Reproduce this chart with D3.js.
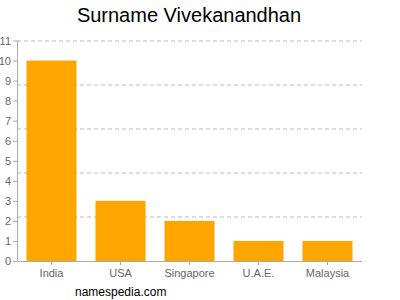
<!DOCTYPE html>
<html>
<head>
<meta charset="utf-8">
<script src="https://cdn.jsdelivr.net/npm/d3@7"></script>
<style>
  body { margin: 0; background: #fff; }
  text { font-family: "Liberation Sans", Arial, sans-serif; }
</style>
</head>
<body>
<svg id="chart"></svg>
<script>
// surname counts per country
const countries = ['India', 'USA', 'Singapore', 'U.A.E.', 'Malaysia'];
const counts = [10, 3, 2, 1, 1];
const yTicks = d3.range(0, 12);
const gridValues = [2.2, 4.4, 6.6, 8.8, 11];

const config = {
  width: 400,
  height: 300,
  margin: { top: 40.5, right: 38, bottom: 39, left: 17 },
};

const svg = d3.select('#chart')
  .attr('width', config.width)
  .attr('height', config.height);

const innerW = config.width - config.margin.left - config.margin.right;
const innerH = config.height - config.margin.top - config.margin.bottom;

const chart = svg.append('g')
  .attr('transform', `translate(${config.margin.left},${config.margin.top})`);

const xScale = d3.scaleBand()
  .domain(countries)
  .range([0, innerW])
  .paddingInner(0.275)
  .paddingOuter(0.1375);

const yScale = d3.scaleLinear()
  .domain([0, 11])
  .range([innerH, 0]);

// dashed gridlines
chart.selectAll('.grid')
  .data(gridValues)
  .join('line')
  .attr('class', 'grid')
  .attr('x1', 0)
  .attr('x2', innerW)
  .attr('y1', (d) => Math.round(yScale(d)) + 0.5)
  .attr('y2', (d) => Math.round(yScale(d)) + 0.5)
  .attr('stroke', '#bbb')
  .attr('stroke-dasharray', '4,3');

// bars
chart.selectAll('.bar')
  .data(countries)
  .join('rect')
  .attr('class', 'bar')
  .attr('x', (d) => xScale(d))
  .attr('width', xScale.bandwidth())
  .attr('y', (d, i) => yScale(counts[i]))
  .attr('height', (d, i) => innerH - yScale(counts[i]))
  .attr('fill', '#ffa500');

// axes
const yAxis = d3.axisLeft(yScale)
  .tickValues(yTicks)
  .tickSize(4)
  .tickPadding(2);

const xAxis = d3.axisBottom(xScale)
  .tickSize(4)
  .tickPadding(4);

const yAxisG = chart.append('g').call(yAxis);
const xAxisG = chart.append('g')
  .attr('transform', `translate(0,${innerH})`)
  .call(xAxis);

[yAxisG, xAxisG].forEach((g) => {
  g.selectAll('path, line').attr('stroke', '#aaa');
  g.selectAll('text')
    .attr('fill', '#666')
    .style('font-size', '11px');
});
xAxisG.select('.domain').attr('d', `M0.5,0.5H${innerW}`);
yAxisG.select('.domain').attr('d', `M0.5,0H0.5V${innerH}`);

// title and footer
svg.append('text')
  .attr('x', 189)
  .attr('y', 22)
  .attr('text-anchor', 'middle')
  .style('font-size', '20px')
  .attr('fill', '#000')
  .text('Surname Vivekanandhan');

svg.append('text')
  .attr('x', 75)
  .attr('y', 296)
  .style('font-size', '12px')
  .attr('fill', '#000')
  .text('namespedia.com');
</script>
</body>
</html>
